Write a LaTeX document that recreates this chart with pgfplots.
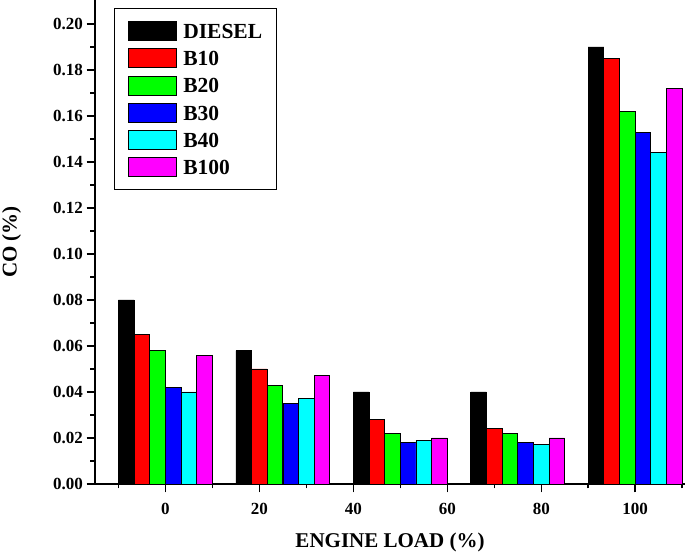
\documentclass[border=0pt]{standalone}
\usepackage{fontspec}
\setmainfont{Liberation Serif}
\usepackage{pgfplots}
\pgfplotsset{compat=1.18}
\pgfplotsset{
  mylegend/.style={legend image code/.code={\draw[##1,/tikz/.cd,line width=0.8pt] (0pt,-9.8pt) rectangle (48pt,9.2pt);}},
  mybar/.style={ybar, draw=black, line width=0.8pt, bar width=3.333, mylegend},
}
\definecolor{cgreen}{RGB}{0,255,0}
\definecolor{cblue}{RGB}{0,0,255}
\definecolor{ccyan}{RGB}{0,255,255}
\definecolor{cmag}{RGB}{255,0,255}
\definecolor{cred}{RGB}{255,0,0}
\begin{document}
\begin{tikzpicture}
\useasboundingbox (-95pt,-69pt) rectangle (590pt,484pt);
\begin{axis}[
  at={(0pt,0pt)}, anchor=south west,
  scale only axis, width=590pt, height=484pt,
  xmin=-15, xmax=110.6, ymin=0, ymax=0.2104,
  axis x line=bottom, axis y line=left,
  axis line style={-, line width=1.5pt},
  tick align=outside,
  major tick length=8.5pt, minor tick length=4.5pt,
  every tick/.style={black, line width=1.5pt},
  xtick={0,20,40,60,80,100},
  minor xtick={-10,10,30,50,70,90,110},
  ytick={0,0.02,0.04,0.06,0.08,0.10,0.12,0.14,0.16,0.18,0.20},
  minor ytick={0.01,0.03,0.05,0.07,0.09,0.11,0.13,0.15,0.17,0.19},
  yticklabel style={/pgf/number format/.cd, fixed, fixed zerofill, precision=2, assume math mode=true},
  xticklabel style={/pgf/number format/assume math mode=true, yshift=-7pt},
  ticklabel style={font=\fontsize{17}{17}\selectfont\bfseries},
  xlabel={ENGINE LOAD (\%)},
  ylabel={CO (\%)},
  label style={font=\fontsize{21}{21}\selectfont\bfseries},
  xlabel style={at={(axis description cs:0.5,-0.132)}, anchor=base, inner sep=0pt},
  ylabel style={at={(axis description cs:-0.125,0.5)}, anchor=south, inner sep=0pt},
  legend style={at={(axis description cs:0.0322,0.9835)}, anchor=north west,
    draw=black, line width=1pt, inner xsep=14pt, inner ysep=12.5pt,
    font=\fontsize{21.5}{21.5}\selectfont\bfseries,
    row sep=7.5pt,
    nodes={inner sep=0pt, text height=15.5pt, text depth=0pt},
    /tikz/every odd column/.append style={column sep=6pt}},
  legend cell align=left,
  clip=false,
]
\addplot[mybar, fill=black, bar shift=-8.333] coordinates {(0,0.080) (25,0.058) (50,0.040) (75,0.040) (100,0.190)};
\addplot[mybar, fill=cred, bar shift=-5] coordinates {(0,0.065) (25,0.050) (50,0.028) (75,0.024) (100,0.185)};
\addplot[mybar, fill=cgreen, bar shift=-1.667] coordinates {(0,0.058) (25,0.043) (50,0.022) (75,0.022) (100,0.162)};
\addplot[mybar, fill=cblue, bar shift=1.667] coordinates {(0,0.042) (25,0.035) (50,0.018) (75,0.018) (100,0.153)};
\addplot[mybar, fill=ccyan, bar shift=5] coordinates {(0,0.040) (25,0.037) (50,0.019) (75,0.017) (100,0.144)};
\addplot[mybar, fill=cmag, bar shift=8.333] coordinates {(0,0.056) (25,0.047) (50,0.020) (75,0.020) (100,0.172)};
\legend{DIESEL,B10,B20,B30,B40,B100}
\end{axis}
\end{tikzpicture}
\end{document}
